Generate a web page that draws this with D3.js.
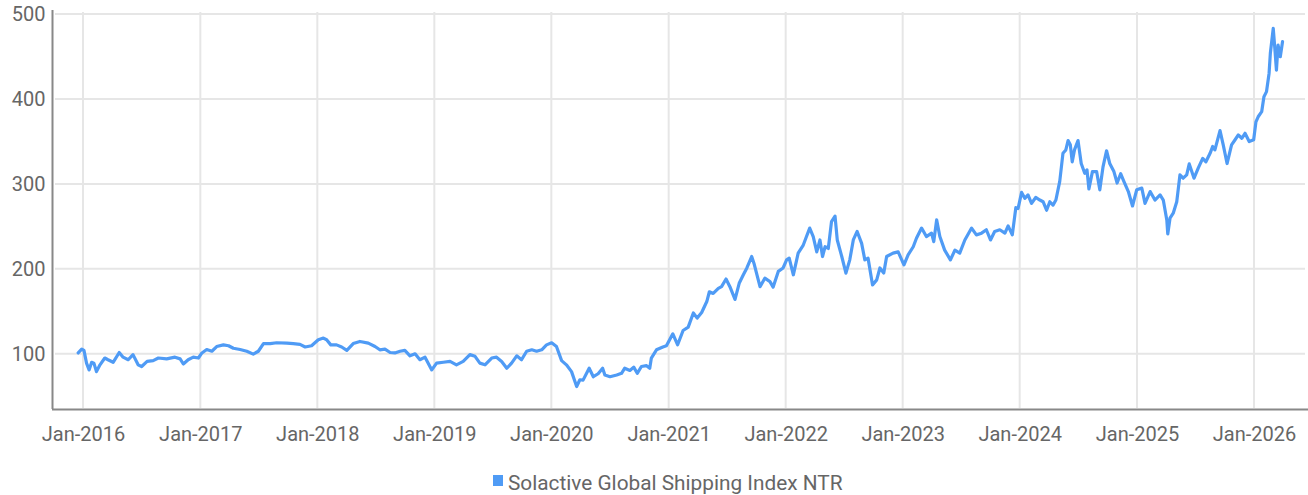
<!DOCTYPE html>
<html>
<head>
<meta charset="utf-8">
<script src="https://cdn.jsdelivr.net/npm/d3@7"></script>
<style>
  body { margin: 0; background: #fff; }
  text { font-family: Roboto, "Noto Sans", sans-serif; fill: #666; }
</style>
</head>
<body>
<svg id="chart" width="1308" height="495"></svg>
<script>
const seriesName = "Solactive Global Shipping Index NTR"

const dates = [
  "2015-12-17","2015-12-28","2016-01-04","2016-01-12","2016-01-20","2016-01-28","2016-02-04","2016-02-12","2016-02-23","2016-03-09",
  "2016-03-19","2016-04-04","2016-04-23","2016-05-05","2016-05-21","2016-06-05","2016-06-21","2016-07-02","2016-07-19","2016-08-07",
  "2016-08-23","2016-09-18","2016-10-14","2016-10-30","2016-11-09","2016-11-24","2016-12-10","2016-12-26","2017-01-06","2017-01-21",
  "2017-02-06","2017-02-21","2017-03-14","2017-03-30","2017-04-14","2017-05-05","2017-05-26","2017-06-15","2017-07-01","2017-07-17",
  "2017-08-07","2017-08-27","2017-09-28","2017-10-18","2017-11-08","2017-11-24","2017-12-14","2018-01-04","2018-01-20","2018-01-30",
  "2018-02-12","2018-03-02","2018-03-18","2018-04-03","2018-04-23","2018-05-14","2018-06-09","2018-06-30","2018-07-15","2018-07-31",
  "2018-08-16","2018-08-31","2018-09-16","2018-10-01","2018-10-17","2018-11-02","2018-11-17","2018-12-03","2018-12-24","2019-01-08",
  "2019-01-29","2019-02-19","2019-03-11","2019-04-01","2019-04-22","2019-05-08","2019-05-23","2019-06-08","2019-06-29","2019-07-14",
  "2019-07-30","2019-08-15","2019-08-30","2019-09-15","2019-09-30","2019-10-16","2019-11-01","2019-11-16","2019-12-02","2019-12-17",
  "2020-01-02","2020-01-17","2020-02-02","2020-02-17","2020-03-04","2020-03-20","2020-03-30","2020-04-09","2020-04-28","2020-05-11",
  "2020-05-26","2020-06-09","2020-06-16","2020-07-02","2020-07-23","2020-08-07","2020-08-17","2020-09-02","2020-09-14","2020-09-25",
  "2020-10-08","2020-10-24","2020-11-03","2020-11-08","2020-11-24","2020-12-14","2020-12-25","2021-01-14","2021-01-29","2021-02-15",
  "2021-03-03","2021-03-19","2021-03-31","2021-04-14","2021-04-30","2021-05-08","2021-05-20","2021-06-05","2021-06-15","2021-06-29",
  "2021-07-11","2021-07-27","2021-08-09","2021-08-22","2021-09-02","2021-09-17","2021-09-24","2021-10-13","2021-10-28","2021-11-13",
  "2021-11-23","2021-12-09","2021-12-24","2022-01-04","2022-01-12","2022-01-25","2022-02-09","2022-02-25","2022-03-07","2022-03-17",
  "2022-03-28","2022-04-08","2022-04-18","2022-04-26","2022-05-04","2022-05-14","2022-05-24","2022-06-04","2022-06-11","2022-06-25",
  "2022-07-08","2022-07-20","2022-07-31","2022-08-12","2022-08-26","2022-09-05","2022-09-15","2022-09-29","2022-10-12","2022-10-22",
  "2022-11-03","2022-11-12","2022-12-02","2022-12-18","2023-01-05","2023-01-18","2023-02-03","2023-02-13","2023-03-01","2023-03-16",
  "2023-04-01","2023-04-08","2023-04-17","2023-04-27","2023-05-12","2023-05-30","2023-06-13","2023-06-28","2023-07-14","2023-08-04",
  "2023-08-19","2023-09-04","2023-09-19","2023-10-02","2023-10-15","2023-10-31","2023-11-16","2023-11-26","2023-12-09","2023-12-20",
  "2023-12-27","2024-01-07","2024-01-17","2024-01-27","2024-02-07","2024-02-20","2024-03-04","2024-03-14","2024-03-25","2024-04-04",
  "2024-04-14","2024-04-23","2024-05-05","2024-05-15","2024-05-24","2024-05-31","2024-06-07","2024-06-13","2024-06-20","2024-07-01",
  "2024-07-11","2024-07-22","2024-07-29","2024-08-04","2024-08-15","2024-08-28","2024-09-07","2024-09-17","2024-09-28","2024-10-08",
  "2024-10-21","2024-10-31","2024-11-11","2024-11-21","2024-12-05","2024-12-18","2024-12-31","2025-01-16","2025-01-26","2025-02-11",
  "2025-02-26","2025-03-14","2025-03-24","2025-04-04","2025-04-07","2025-04-14","2025-04-24","2025-05-05","2025-05-15","2025-05-25",
  "2025-06-05","2025-06-13","2025-06-28","2025-07-11","2025-07-25","2025-08-04","2025-08-17","2025-08-25","2025-09-01","2025-09-17",
  "2025-09-27","2025-10-09","2025-10-23","2025-11-03","2025-11-13","2025-11-24","2025-12-04","2025-12-17","2025-12-31","2026-01-07",
  "2026-01-14","2026-01-25","2026-02-01","2026-02-09","2026-02-17","2026-02-21","2026-03-02","2026-03-07","2026-03-12","2026-03-17",
  "2026-03-24","2026-03-31"
]

const values = [
  101,105.5,104,89,81,90,89,79,87,95,
  93,90,101.5,96,93,99,87,85,91,92,
  95,94,96,94,88,93,96,95,101,105,
  103,108.5,110.5,109.5,106.5,105,103,99.6,103,112,
  112,113,112.5,112,111,108,109.5,116.5,118.5,116.5,
  110.5,110.5,108,104,112,114.5,112.5,108.6,104.7,105.5,
  101.5,101,103,104,97.6,100,93,96,81,89,
  90,91,87,91,99,97,89,87,95,96,
  91,83,89,97.6,93,103,104.7,103,104.7,110.5,
  113,108.6,92,87,79,61.5,69.4,69,83,73,
  76.5,83,75,73,75,77,83,80.4,84.3,77,
  85,86,83,95,104.7,108,109.4,123.5,110.6,127.4,
  131.4,148,142,148.6,161.5,173,171,177,179,188,
  179,164,183,193,201,214.5,206.7,179,189,185,
  178.5,197,201,210.6,212.6,193,218.5,228,238,248,
  238,220,234,214.5,226,224,255.6,262,234,214.5,
  195,210.6,234,244,230,210.6,212.6,181,187,201,
  195,214.5,218.5,220,204.7,216.5,226,236,248,238,
  242,232,257.6,238,222,210.6,222,218.5,234,248,
  240,242,246,234,244,246,242,250.6,240,272,
  271,290,283,287,277,284,281,279,269,279,
  275,281,303,336,340,351,346,326,340,351,
  324,312.5,316.5,294,314.5,314.5,293,320,339,324,
  314.5,301,312,303,291,274,293,295,277,291,
  281,287,281,257.6,241,259.6,265.5,279,310.6,306.7,
  310.6,323.5,306.7,318.5,330,326,336,344,340,362.7,
  346,324,346,352,357.6,353.7,359.6,349.8,352,373,
  379,385,402.7,408.6,430,453.8,483,459.6,434,463.5,
  449.8,467.4
]

const yTicks = [100, 200, 300, 400, 500]
const xTickDates = ["2016-01-01","2017-01-01","2018-01-01","2019-01-01","2020-01-01","2021-01-01",
  "2022-01-01","2023-01-01","2024-01-01","2025-01-01","2026-01-01"]

const parse = d3.timeParse("%Y-%m-%d")
const data = dates.map((d, i) => ({ date: parse(d), value: values[i] }))

const svg = d3.select("#chart")
const plotLeft = 55, plotRight = 1305, plotTop = 14, plotBottom = 409

const x = d3.scaleTime()
  .domain([parse("2016-01-01"), parse("2026-01-01")])
  .range([83, 1254])
const y = d3.scaleLinear().domain([35, 500]).range([plotBottom, plotTop])

// grid
svg.append("g")
  .selectAll("line")
  .data(yTicks)
  .join("line")
  .attr("x1", plotLeft).attr("x2", plotRight)
  .attr("y1", d => y(d)).attr("y2", d => y(d))
  .attr("stroke", "#e6e6e6").attr("stroke-width", 2)

svg.append("g")
  .selectAll("line")
  .data(xTickDates.map(parse))
  .join("line")
  .attr("x1", d => x(d)).attr("x2", d => x(d))
  .attr("y1", plotTop - 2).attr("y2", plotBottom - 1)
  .attr("stroke", "#e6e6e6").attr("stroke-width", 2)

// axes
const yAxis = svg.append("g")
  .attr("transform", "translate(52.5,0)")
  .call(d3.axisLeft(y).tickValues(yTicks).tickSize(0).tickPadding(7))
yAxis.select(".domain").attr("d", `M0,${plotTop - 4}V${plotBottom}`).attr("stroke", "#888").attr("stroke-width", 2)
yAxis.selectAll("text").style("font-size", "20px").attr("fill", "#6a6a6a")

const xAxis = svg.append("g")
  .attr("transform", `translate(0,${plotBottom + 0.5})`)
  .call(d3.axisBottom(x).tickValues(xTickDates.map(parse)).tickFormat(d3.timeFormat("%b-%Y")).tickSize(0).tickPadding(17))
xAxis.select(".domain").attr("d", `M52,0H1308`).attr("stroke", "#888").attr("stroke-width", 2)
xAxis.selectAll("text").style("font-size", "20px").attr("fill", "#6a6a6a")

// series
svg.append("path")
  .datum(data)
  .attr("fill", "none")
  .attr("stroke", "#4f9bf5")
  .attr("stroke-width", 3.2)
  .attr("stroke-linejoin", "round")
  .attr("stroke-linecap", "round")
  .attr("d", d3.line().x(d => x(d.date)).y(d => y(d.value)))

// legend
const legend = svg.append("g").attr("transform", "translate(493,475)")
legend.append("rect").attr("width", 10).attr("height", 11).attr("fill", "#4f9bf5")
legend.append("text").attr("x", 15).attr("y", 14.5).style("font-size", "20.8px").attr("fill", "#6a6a6a").text(seriesName)
</script>
</body>
</html>
